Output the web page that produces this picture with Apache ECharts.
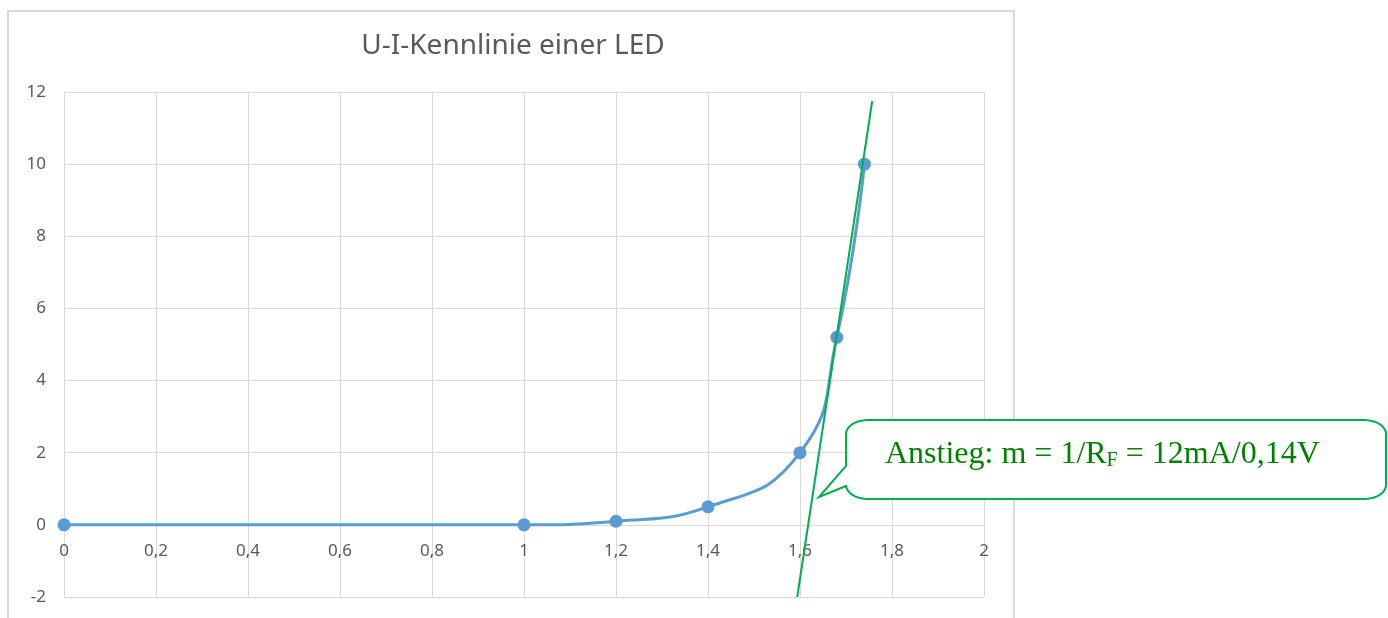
<!DOCTYPE html>
<html>
<head>
<meta charset="utf-8">
<script src="https://cdn.jsdelivr.net/npm/echarts@6/dist/echarts.min.js"></script>
<style>html,body{margin:0;padding:0;background:#fff}#c{width:1388px;height:618px}</style>
</head>
<body>
<div id="c"></div>
<script>
// U in V, I in mA
const voltage = [0, 1, 1.2, 1.4, 1.6, 1.68, 1.74];
const current = [0, 0, 0.1, 0.5, 2, 5.2, 10];
// tangent line (Anstieg)
const tangentU = [1.594, 1.757];
const tangentI = [-2, 11.75];
const yMin = -2, yMax = 12;
const titleText = 'U-I-Kennlinie einer LED';
const calloutMain = 'Anstieg: m = 1/R';
const calloutSub = 'F';
const calloutRest = ' = 12mA/0,14V';

const chart = echarts.init(document.getElementById('c'), null, {renderer: 'canvas'});
const labelColor = '#595959';
const gridColor = '#d9d9d9';
const fmt = v => String(+v.toFixed(2)).replace('.', ',');
const gridH = 505;
// x axis crosses at I = 0 (as in Excel)
const xAxisOffset = -gridH * (0 - yMin) / (yMax - yMin);

function calloutPoints(x0, y0, x1, y1, rx, ry, tailTop, tailBot, tip) {
  const pts = [];
  function arc(cx, cy, a0, a1) {
    const n = 10;
    for (let k = 0; k <= n; k++) {
      const a = a0 + (a1 - a0) * k / n;
      pts.push([cx + rx * Math.cos(a), cy + ry * Math.sin(a)]);
    }
  }
  arc(x0 + rx, y0 + ry, Math.PI, 1.5 * Math.PI);
  arc(x1 - rx, y0 + ry, 1.5 * Math.PI, 2 * Math.PI);
  arc(x1 - rx, y1 - ry, 0, 0.5 * Math.PI);
  arc(x0 + rx, y1 - ry, 0.5 * Math.PI, Math.PI);
  pts.push([x0, tailBot]);
  pts.push(tip);
  pts.push([x0, tailTop]);
  return pts;
}

chart.setOption({
  animation: false,
  backgroundColor: '#fff',
  title: {
    text: titleText,
    left: 508, top: 27, textAlign: 'center',
    textStyle: {fontFamily: 'Noto Sans', fontSize: 28, fontWeight: 'normal', color: labelColor}
  },
  grid: {left: 64, top: 92, width: 920, height: gridH, containLabel: false, outerBoundsMode: 'none'},
  xAxis: {
    type: 'value', min: 0, max: 2, interval: 0.2, position: 'bottom', offset: xAxisOffset,
    axisLine: {show: true, onZero: false, lineStyle: {color: gridColor, width: 1}},
    axisTick: {show: false},
    axisLabel: {color: labelColor, fontFamily: 'Noto Sans', fontSize: 17, margin: 18, formatter: fmt},
    splitLine: {show: true, lineStyle: {color: gridColor, width: 1}}
  },
  yAxis: {
    type: 'value', min: yMin, max: yMax, interval: 2,
    axisLine: {show: false, onZero: false}, axisTick: {show: false},
    axisLabel: {color: labelColor, fontFamily: 'Noto Sans', fontSize: 17, margin: 18, formatter: fmt},
    splitLine: {show: true, lineStyle: {color: gridColor, width: 1}}
  },
  series: [
    {
      type: 'line', smooth: 0.5, z: 3,
      data: voltage.map((u, i) => [u, current[i]]),
      symbol: 'circle', symbolSize: 13,
      itemStyle: {color: '#5B9BD5'},
      lineStyle: {color: '#5B9BD5', width: 3}
    },
    {
      type: 'line', z: 4, symbol: 'none',
      data: tangentU.map((u, i) => [u, tangentI[i]]),
      lineStyle: {color: '#00B050', width: 2}
    }
  ],
  graphic: [
    {
      type: 'rect', z: -10, silent: true,
      shape: {x: 8, y: 11, width: 1006, height: 640},
      style: {fill: 'none', stroke: gridColor, lineWidth: 2}
    },
    {
      type: 'polygon', z: 100, silent: true,
      shape: {points: calloutPoints(846, 420, 1386, 499, 22, 14, 466, 486, [819, 497])},
      style: {fill: '#fff', stroke: '#00B050', lineWidth: 2}
    },
    {
      type: 'text', z: 101, silent: true,
      x: 885, y: 455,
      style: {
        text: '{a|' + calloutMain + '}{s|' + calloutSub + '}{a|' + calloutRest + '}',
        textVerticalAlign: 'middle',
        rich: {
          a: {fontFamily: 'Liberation Serif', fontSize: 32, fill: '#008000', verticalAlign: 'bottom'},
          s: {fontFamily: 'Liberation Serif', fontSize: 20, fill: '#008000', verticalAlign: 'bottom'}
        }
      }
    }
  ]
});
</script>
</body>
</html>
